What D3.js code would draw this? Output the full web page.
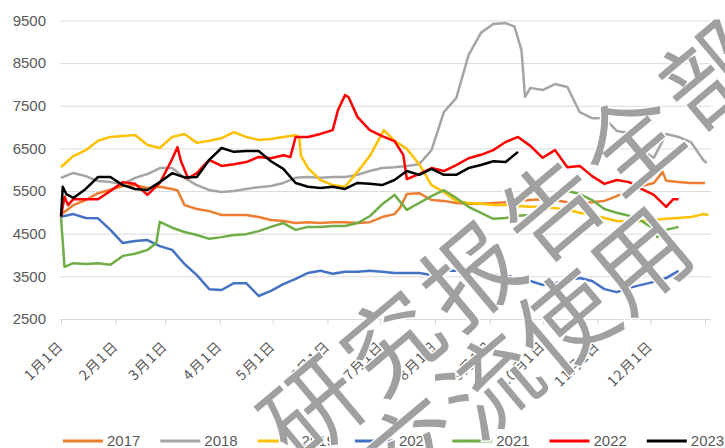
<!DOCTYPE html>
<html>
<head>
<meta charset="utf-8">
<script src="https://cdn.jsdelivr.net/npm/d3@7"></script>
<style>
  html, body { margin: 0; padding: 0; background: #ffffff; }
  #chart { width: 725px; height: 448px; overflow: hidden; }
</style>
</head>
<body>
<div id="chart"></div>
<script>
const width = 725;
const height = 448;
const plot = { l: 61, r: 705, gridL: 60, gridR: 711, t: 20.5, b: 319 };

const years = ["2017", "2018", "2019", "2020", "2021", "2022", "2023"];
const colors = ["#ED7D31", "#A5A5A5", "#FFC000", "#4472C4", "#70AD47", "#FF0000", "#000000"];
const yTicks = [2500, 3500, 4500, 5500, 6500, 7500, 8500, 9500];

// [day of year, price]
const s2017 = [[0,4950],[7,5170],[14,5290],[21,5450],[28,5530],[35,5620],[42,5640],[49,5570],[56,5600],[63,5550],
  [66,5520],[70,5170],[77,5080],[84,5030],[91,4940],[98,4940],[105,4940],[112,4890],[119,4820],[126,4800],
  [133,4750],[140,4770],[147,4750],[154,4770],[161,4770],[168,4750],[175,4770],[182,4890],[189,4960],[192,5100],
  [196,5430],[203,5450],[210,5290],[217,5270],[224,5220],[231,5200],[238,5200],[245,5220],[252,5240],[259,5270],
  [266,5290],[273,5310],[280,5290],[287,5240],[294,5220],[301,5240],[308,5270],[315,5380],[322,5530],[329,5620],
  [336,5690],[341,5950],[343,5740],[350,5710],[357,5690],[365,5690]];
const s2018 = [[0,5810],[7,5925],[14,5850],[21,5735],[28,5710],[35,5665],[42,5810],[49,5900],[56,6040],[63,6040],
  [70,5810],[77,5640],[84,5525],[91,5480],[98,5500],[105,5550],[112,5590],[119,5620],[126,5690],[133,5810],
  [140,5830],[147,5810],[154,5830],[161,5830],[168,5880],[175,5970],[182,6040],[189,6060],[196,6090],[203,6130],
  [210,6460],[217,7350],[224,7680],[231,8690],[238,9210],[245,9420],[252,9440],[257,9360],[261,8800],[263,7710],
  [266,7920],[273,7870],[280,8010],[287,7940],[294,7350],[301,7210],[308,7210],[315,6910],[322,6860],[329,6460],
  [336,6280],[343,6840],[350,6770],[357,6650],[364,6230],[366,6160]];
const s2019 = [[0,6065],[7,6320],[14,6460],[21,6680],[28,6770],[35,6790],[42,6815],[49,6580],[56,6510],[63,6770],
  [70,6840],[77,6630],[84,6680],[91,6740],[98,6880],[105,6770],[112,6700],[119,6720],[126,6770],[133,6810],
  [135,6760],[136,6330],[140,6040],[147,5760],[154,5640],[161,5600],[168,5950],[175,6320],[183,6930],[189,6680],
  [196,6490],[203,6130],[210,5640],[217,5480],[224,5270],[231,5220],[238,5200],[245,5175],[252,5175],[259,5150],
  [266,5130],[273,5130],[280,5100],[287,5060],[294,4990],[301,4940],[308,4870],[315,4800],[322,4780],[329,4800],
  [336,4820],[343,4850],[350,4870],[357,4890],[364,4960],[367,4940]];
const s2020 = [[0,4900],[7,4960],[14,4870],[21,4860],[28,4590],[35,4280],[42,4330],[49,4350],[56,4210],[63,4120],
  [70,3790],[77,3530],[84,3200],[91,3180],[98,3340],[105,3340],[112,3040],[119,3160],[126,3320],[133,3440],
  [140,3580],[147,3630],[154,3560],[161,3610],[168,3610],[175,3630],[182,3610],[189,3580],[196,3580],[203,3580],
  [210,3530],[217,3630],[224,3630],[231,3610],[238,3580],[245,3530],[252,3530],[259,3440],[266,3390],[273,3300],
  [280,3340],[287,3410],[294,3460],[301,3390],[308,3200],[315,3130],[322,3230],[329,3300],[336,3370],[343,3460],
  [350,3630]];
const s2021 = [[0,4880],[2,3720],[7,3810],[14,3790],[21,3810],[28,3770],[35,3980],[42,4030],[49,4120],[54,4280],
  [56,4780],[63,4640],[70,4540],[77,4470],[84,4380],[91,4420],[98,4470],[105,4490],[112,4560],[119,4660],
  [126,4750],[133,4590],[140,4660],[147,4660],[154,4680],[161,4680],[168,4750],[175,4910],[182,5190],[189,5410],
  [196,5060],[203,5220],[210,5380],[217,5520],[224,5340],[231,5130],[238,4990],[245,4850],[252,4870],[259,4920],
  [266,4940],[273,5130],[280,5290],[287,5500],[294,5430],[301,5290],[308,5080],[315,4990],[322,4920],[329,4800],
  [336,4610],[338,4420],[343,4590],[350,4660]];
const s2022 = [[0,4900],[2,5370],[4,5170],[7,5310],[14,5310],[21,5310],[28,5500],[35,5710],[42,5670],[49,5410],
  [56,5690],[63,6250],[66,6530],[68,6200],[72,5800],[77,5920],[84,6230],[91,6090],[98,6130],[105,6180],
  [112,6300],[119,6270],[126,6340],[130,6300],[133,6770],[140,6770],[147,6840],[154,6930],[157,7400],[161,7750],
  [163,7700],[168,7240],[175,6930],[182,6790],[189,6670],[194,6350],[196,5780],[203,5900],[210,6040],[217,5970],
  [224,6110],[231,6270],[238,6350],[245,6460],[252,6650],[259,6770],[266,6560],[273,6280],[280,6460],[287,6060],
  [294,6090],[301,5850],[308,5670],[315,5760],[322,5710],[329,5550],[336,5410],[343,5130],[347,5310],[350,5310]];
const s2023 = [[0,4900],[1,5600],[3,5430],[7,5340],[14,5550],[21,5830],[28,5830],[35,5640],[42,5550],[49,5525],
  [56,5710],[63,5920],[70,5820],[77,5830],[84,6230],[91,6510],[98,6420],[105,6440],[112,6440],[119,6200],
  [126,6020],[133,5690],[140,5600],[147,5570],[154,5600],[161,5550],[168,5690],[175,5670],[182,5640],[189,5760],
  [196,5970],[203,5880],[210,6020],[217,5880],[224,5880],[231,6040],[238,6110],[245,6200],[252,6180],[259,6420]];

const seriesList = [s2017, s2018, s2019, s2020, s2021, s2022, s2023];

const startDay = new Date(2021, 0, 1);
const toDate = (d) => d3.timeDay.offset(startDay, d);

const xScale = d3
  .scaleTime()
  .domain([startDay, new Date(2022, 0, 1)])
  .range([plot.l, plot.r]);

const yScale = d3.scaleLinear().domain([2500, 9500]).range([plot.b, plot.t]);

const svg = d3
  .select("#chart")
  .append("svg")
  .attr("width", width)
  .attr("height", height)
  .style("font-family", "'Liberation Sans', Arial, 'Noto Sans CJK SC', sans-serif");

// horizontal grid + y labels
const yAxis = svg
  .append("g")
  .attr("transform", `translate(${plot.gridL}, 0)`)
  .call(
    d3.axisLeft(yScale)
      .tickValues(yTicks)
      .tickSize(-(plot.gridR - plot.gridL))
      .tickPadding(14)
      .tickFormat(d3.format("d"))
  );
yAxis.select(".domain").remove();
yAxis.selectAll("line").attr("stroke", "#d9d9d9").attr("stroke-width", 1);
yAxis.selectAll("text")
  .attr("fill", "#595959")
  .style("font-size", "15px");

// x axis ticks and month labels
const xAxis = svg
  .append("g")
  .attr("transform", `translate(0, ${plot.b})`)
  .call(
    d3.axisBottom(xScale)
      .ticks(d3.timeMonth.every(1))
      .tickSize(6)
      .tickFormat((d) => (d.getFullYear() === 2021 ? `${d.getMonth() + 1}月1日` : ""))
  );
xAxis.select(".domain").remove();
xAxis.selectAll("line").attr("stroke", "#d9d9d9");
xAxis.selectAll("text")
  .attr("x", 0)
  .attr("y", 0)
  .attr("dy", 0)
  .attr("transform", "translate(3, 28) rotate(-45)")
  .attr("text-anchor", "end")
  .attr("fill", "#595959")
  .style("font-family", "'Noto Sans CJK SC', sans-serif")
  .style("font-size", "14px")
  .style("letter-spacing", "1.2px");

// price lines
const line = d3
  .line()
  .x((d) => xScale(toDate(d[0])))
  .y((d) => yScale(d[1]));

svg
  .append("g")
  .selectAll("path")
  .data(seriesList)
  .enter()
  .append("path")
  .attr("d", line)
  .attr("fill", "none")
  .attr("stroke", (d, i) => colors[i])
  .attr("stroke-width", 2.5)
  .attr("stroke-linejoin", "round");

// legend
const legend = svg
  .append("g")
  .selectAll("g")
  .data(years)
  .enter()
  .append("g")
  .attr("transform", (d, i) => `translate(${63 + i * 97.3}, 441)`);

legend
  .append("line")
  .attr("x1", 0)
  .attr("x2", 40)
  .attr("stroke", (d, i) => colors[i])
  .attr("stroke-width", 3);

legend
  .append("text")
  .attr("x", 44)
  .attr("y", 5)
  .text((d) => d)
  .attr("fill", "#595959")
  .style("font-size", "15px");

// watermark
const mark = svg
  .append("g")
  .attr("transform", "translate(388, 338) rotate(-40)")
  .style("font-family", "'Noto Sans CJK SC', sans-serif")
  .style("font-weight", "normal")
  .style("font-size", "96px")
  .attr("fill", "#a0a0a0")
  .attr("stroke", "#ffffff")
  .attr("stroke-width", 3)
  .attr("paint-order", "stroke");

mark
  .append("text")
  .attr("x", -152)
  .attr("y", 0)
  .attr("dominant-baseline", "central")
  .style("letter-spacing", "8px")
  .text("研究报告全部");

mark
  .append("text")
  .attr("x", -98)
  .attr("y", 96)
  .attr("dominant-baseline", "central")
  .style("letter-spacing", "2px")
  .text("交流使用");
</script>
</body>
</html>
